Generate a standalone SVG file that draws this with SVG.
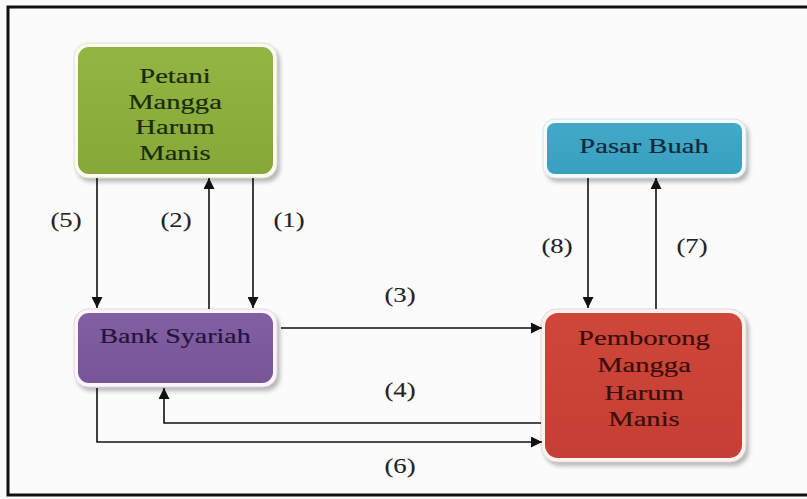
<svg xmlns="http://www.w3.org/2000/svg" width="807" height="499" viewBox="0 0 807 499">
<defs>
<marker id="ah" viewBox="0 0 10 10" refX="10" refY="5" markerWidth="12" markerHeight="11" markerUnits="userSpaceOnUse" orient="auto">
<path d="M0,0 L10,5 L0,10 z" fill="#111"/>
</marker>
<filter id="blur" x="-10%" y="-10%" width="130%" height="130%"><feGaussianBlur stdDeviation="2"/></filter>
<linearGradient id="gG" x1="0" y1="0" x2="0" y2="1"><stop offset="0" stop-color="#93b543"/><stop offset="1" stop-color="#86a838"/></linearGradient>
<linearGradient id="gP" x1="0" y1="0" x2="0" y2="1"><stop offset="0" stop-color="#835ea3"/><stop offset="1" stop-color="#785597"/></linearGradient>
<linearGradient id="gB" x1="0" y1="0" x2="0" y2="1"><stop offset="0" stop-color="#42a9c8"/><stop offset="1" stop-color="#399fc0"/></linearGradient>
<linearGradient id="gR" x1="0" y1="0" x2="0" y2="1"><stop offset="0" stop-color="#cf463a"/><stop offset="1" stop-color="#c63f34"/></linearGradient>
</defs>
<style>
.t{font-family:"Liberation Serif","Times New Roman",serif;font-size:22px;text-anchor:middle;stroke-width:0.2;}
.l{font-family:"Liberation Serif","Times New Roman",serif;font-size:21px;text-anchor:middle;fill:#222;stroke:#222;stroke-width:0.1;}
.sh{fill:#8a8a8a;opacity:0.6;}
.c{fill:none;stroke:#111;stroke-width:1.6;}
</style>
<rect x="0" y="0" width="807" height="499" fill="#fafafa"/>
<rect x="8" y="7" width="810" height="488" fill="#fbfbfb" stroke="#111" stroke-width="3"/>

<g id="petani">
<rect class="sh" x="77" y="47" width="203" height="135" rx="14" filter="url(#blur)"/>
<rect x="74" y="43" width="203" height="135" rx="14" fill="#fdfcf2" stroke="#e2dfcc" stroke-width="1"/>
<rect x="78" y="47" width="195" height="127" rx="11" fill="url(#gG)"/>
<text class="t" fill="#1c2a10" stroke="#1c2a10" transform="translate(175,0) scale(1.3,1)"><tspan x="0" y="83">Petani</tspan><tspan x="0" y="109">Mangga</tspan><tspan x="0" y="134">Harum</tspan><tspan x="0" y="160">Manis</tspan></text>
</g>

<g id="bank">
<rect class="sh" x="77" y="313" width="203" height="78" rx="14" filter="url(#blur)"/>
<rect x="74" y="309" width="203" height="78" rx="14" fill="#fbf4fb" stroke="#e2d6e4" stroke-width="1"/>
<rect x="78" y="313" width="195" height="70" rx="11" fill="url(#gP)"/>
<text class="t" fill="#24143a" stroke="#24143a" transform="translate(175,0) scale(1.27,1)" x="0" y="343">Bank Syariah</text>
</g>

<g id="pasar">
<rect class="sh" x="546" y="123" width="203" height="59" rx="12" filter="url(#blur)"/>
<rect x="543" y="119" width="203" height="59" rx="12" fill="#f6fbfd" stroke="#d5e2e8" stroke-width="1"/>
<rect x="547" y="123" width="195" height="51" rx="8" fill="url(#gB)"/>
<text class="t" fill="#14283a" stroke="#14283a" transform="translate(644,0) scale(1.3,1)" x="0" y="153">Pasar Buah</text>
</g>

<g id="pemborong">
<rect class="sh" x="544" y="313" width="205" height="153" rx="16" filter="url(#blur)"/>
<rect x="541" y="309" width="205" height="153" rx="16" fill="#fdf2f0" stroke="#ead4d2" stroke-width="1"/>
<rect x="545" y="313" width="197" height="145" rx="13" fill="url(#gR)"/>
<text class="t" fill="#3a0e0c" stroke="#3a0e0c" transform="translate(644,0) scale(1.3,1)"><tspan x="0" y="345">Pemborong</tspan><tspan x="0" y="372">Mangga</tspan><tspan x="0" y="400">Harum</tspan><tspan x="0" y="426">Manis</tspan></text>
</g>

<g id="connectors">
<path class="c" d="M97,178 L97,308" marker-end="url(#ah)"/>
<path class="c" d="M209,309 L209,178" marker-end="url(#ah)"/>
<path class="c" d="M253,178 L253,308" marker-end="url(#ah)"/>
<path class="c" d="M281,328 L542,328" marker-end="url(#ah)"/>
<path class="c" d="M541,423 L164,423 L164,388" marker-end="url(#ah)"/>
<path class="c" d="M97,388 L97,442 L542,442" marker-end="url(#ah)"/>
<path class="c" d="M588,178 L588,308" marker-end="url(#ah)"/>
<path class="c" d="M656,309 L656,178" marker-end="url(#ah)"/>
</g>

<g id="labels">
<text class="l" transform="translate(66,0) scale(1.27,1)" x="0" y="227">(5)</text>
<text class="l" transform="translate(176,0) scale(1.27,1)" x="0" y="227">(2)</text>
<text class="l" transform="translate(289,0) scale(1.27,1)" x="0" y="227">(1)</text>
<text class="l" transform="translate(557,0) scale(1.27,1)" x="0" y="253">(8)</text>
<text class="l" transform="translate(692,0) scale(1.27,1)" x="0" y="253">(7)</text>
<text class="l" transform="translate(400,0) scale(1.27,1)" x="0" y="302">(3)</text>
<text class="l" transform="translate(400,0) scale(1.27,1)" x="0" y="397">(4)</text>
<text class="l" transform="translate(400,0) scale(1.27,1)" x="0" y="473">(6)</text>
</g>
</svg>
